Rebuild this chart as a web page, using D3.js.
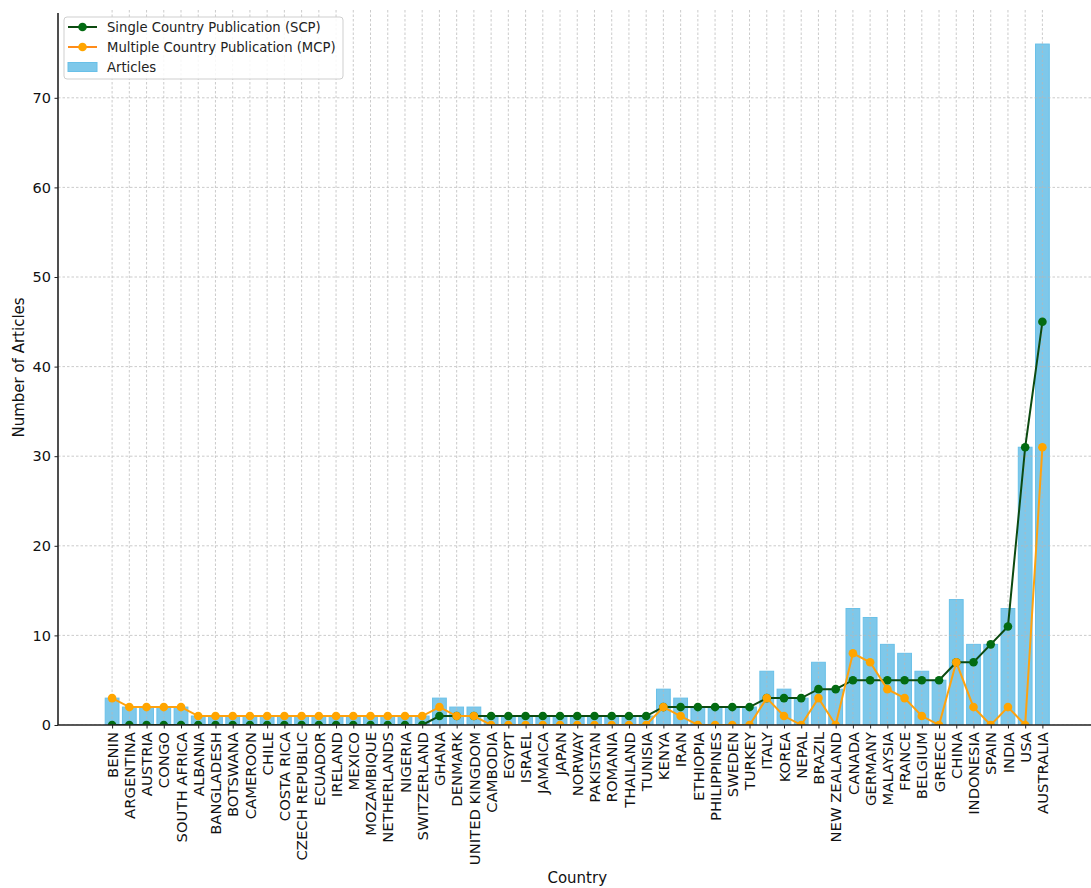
<!DOCTYPE html>
<html>
<head>
<meta charset="utf-8">
<script src="https://cdn.jsdelivr.net/npm/d3@7"></script>
<style>
  html, body { margin: 0; padding: 0; background: #fff; }
  svg { display: block; font-family: "DejaVu Sans", sans-serif; }
</style>
</head>
<body>
<svg id="chart" width="1091" height="888"></svg>
<script>
// Publication counts by country
const countries = [
  "BENIN", "ARGENTINA", "AUSTRIA", "CONGO", "SOUTH AFRICA", "ALBANIA", "BANGLADESH",
  "BOTSWANA", "CAMEROON", "CHILE", "COSTA RICA", "CZECH REPUBLIC", "ECUADOR", "IRELAND",
  "MEXICO", "MOZAMBIQUE", "NETHERLANDS", "NIGERIA", "SWITZERLAND", "GHANA", "DENMARK",
  "UNITED KINGDOM", "CAMBODIA", "EGYPT", "ISRAEL", "JAMAICA", "JAPAN", "NORWAY",
  "PAKISTAN", "ROMANIA", "THAILAND", "TUNISIA", "KENYA", "IRAN", "ETHIOPIA",
  "PHILIPPINES", "SWEDEN", "TURKEY", "ITALY", "KOREA", "NEPAL", "BRAZIL", "NEW ZEALAND",
  "CANADA", "GERMANY", "MALAYSIA", "FRANCE", "BELGIUM", "GREECE", "CHINA", "INDONESIA",
  "SPAIN", "INDIA", "USA", "AUSTRALIA"
];
const articles = [
  3, 2, 2, 2, 2, 1, 1, 1, 1, 1, 1, 1, 1, 1, 1, 1, 1, 1, 1, 3, 2, 2,
  1, 1, 1, 1, 1, 1, 1, 1, 1, 1, 4, 3, 2, 2, 2, 2, 6, 4, 3, 7, 4,
  13, 12, 9, 8, 6, 5, 14, 9, 9, 13, 31, 76
];
const scp = [
  0, 0, 0, 0, 0, 0, 0, 0, 0, 0, 0, 0, 0, 0, 0, 0, 0, 0, 0, 1, 1, 1,
  1, 1, 1, 1, 1, 1, 1, 1, 1, 1, 2, 2, 2, 2, 2, 2, 3, 3, 3, 4, 4,
  5, 5, 5, 5, 5, 5, 7, 7, 9, 11, 31, 45
];
const mcp = [
  3, 2, 2, 2, 2, 1, 1, 1, 1, 1, 1, 1, 1, 1, 1, 1, 1, 1, 1, 2, 1, 1,
  0, 0, 0, 0, 0, 0, 0, 0, 0, 0, 2, 1, 0, 0, 0, 0, 3, 1, 0, 3, 0,
  8, 7, 4, 3, 1, 0, 7, 2, 0, 2, 0, 31
];
const yTicks = [0, 10, 20, 30, 40, 50, 60, 70];

const svg = d3.select("#chart");

// Axes box: left spine at x=58, bottom at y=725
const plot = { left: 58, right: 1096.5, top: 10, bottom: 725 };
const n = countries.length;

// Category index -> x, with 5% margins around the bars
const x = d3.scaleLinear()
  .domain([-3.14, (n - 1) + 3.14])
  .range([plot.left, plot.right]);
const y = d3.scaleLinear()
  .domain([0, 79.8])
  .range([plot.bottom, plot.top]);

const step = x(1) - x(0);
const barW = step * 0.8;

svg.append("defs").append("clipPath").attr("id", "plotClip")
  .append("rect")
  .attr("x", plot.left).attr("y", plot.top)
  .attr("width", plot.right - plot.left).attr("height", plot.bottom - plot.top);

const g = svg.append("g").attr("clip-path", "url(#plotClip)");

// Bars
g.append("g").selectAll("rect")
  .data(articles)
  .join("rect")
  .attr("x", (d, i) => x(i) - barW / 2)
  .attr("y", d => y(d))
  .attr("width", barW)
  .attr("height", d => y(0) - y(d))
  .attr("fill", "#7ec8ea")
  .attr("stroke", "#69c0e8")
  .attr("stroke-width", 1);

// Grid (above bars, below lines)
const grid = g.append("g")
  .attr("stroke", "#b8b8b8")
  .attr("stroke-width", 0.9)
  .attr("stroke-dasharray", "2.5,2")
  .attr("opacity", 0.8);
grid.selectAll("line.v")
  .data(d3.range(n))
  .join("line")
  .attr("class", "v")
  .attr("x1", i => x(i)).attr("x2", i => x(i))
  .attr("y1", plot.top).attr("y2", plot.bottom);
grid.selectAll("line.h")
  .data(yTicks)
  .join("line")
  .attr("class", "h")
  .attr("x1", plot.left).attr("x2", plot.right)
  .attr("y1", d => y(d)).attr("y2", d => y(d));

// Lines with markers
function series(values, lineColor, dotColor) {
  const line = d3.line().x((d, i) => x(i)).y(d => y(d));
  g.append("path")
    .datum(values)
    .attr("d", line)
    .attr("fill", "none")
    .attr("stroke", lineColor)
    .attr("stroke-width", 2);
  g.append("g").selectAll("circle")
    .data(values)
    .join("circle")
    .attr("cx", (d, i) => x(i))
    .attr("cy", d => y(d))
    .attr("r", 4.3)
    .attr("fill", dotColor);
}
series(scp, "#0c4a10", "#036b12");
series(mcp, "#ffa20e", "#ffa500");

// Y axis
const yAxis = d3.axisLeft(y).tickValues(yTicks).tickSize(3.5).tickPadding(3.5);
const yg = svg.append("g")
  .attr("transform", `translate(${plot.left},0)`)
  .call(yAxis);
yg.select(".domain").remove();
yg.selectAll(".tick line").attr("stroke", "#222").attr("stroke-width", 1);
yg.selectAll(".tick text")
  .attr("fill", "#111")
  .style("font-size", "14.5px")
  .style("font-family", "DejaVu Sans");

// X axis
const xAxis = d3.axisBottom(x)
  .tickValues(d3.range(n))
  .tickFormat(i => countries[i])
  .tickSize(3.5)
  .tickPadding(3.5);
const xg = svg.append("g")
  .attr("transform", `translate(0,${plot.bottom})`)
  .call(xAxis);
xg.select(".domain").remove();
xg.selectAll(".tick line").attr("stroke", "#222").attr("stroke-width", 1);
xg.selectAll(".tick text")
  .attr("fill", "#111")
  .style("font-size", "14.8px")
  .style("font-family", "DejaVu Sans")
  .attr("text-anchor", "end")
  .attr("dy", "0.35em")
  .attr("transform", "translate(0,7) rotate(-90)")
  .attr("x", 0)
  .attr("y", 0);

// Spines
svg.append("line")
  .attr("x1", plot.left).attr("x2", plot.left)
  .attr("y1", plot.top + 3).attr("y2", plot.bottom)
  .attr("stroke", "#222").attr("stroke-width", 1.6);
svg.append("line")
  .attr("x1", plot.left).attr("x2", plot.right)
  .attr("y1", plot.bottom).attr("y2", plot.bottom)
  .attr("stroke", "#222").attr("stroke-width", 1.6);

// Axis titles
svg.append("text")
  .attr("x", (plot.left + plot.right) / 2)
  .attr("y", 883)
  .attr("text-anchor", "middle")
  .attr("fill", "#111")
  .style("font-size", "15px")
  .text("Country");
svg.append("text")
  .attr("transform", `translate(24,${(plot.top + plot.bottom) / 2}) rotate(-90)`)
  .attr("text-anchor", "middle")
  .attr("fill", "#111")
  .style("font-size", "15px")
  .text("Number of Articles");

// Legend
const legend = svg.append("g").attr("transform", "translate(64,17)");
legend.append("rect")
  .attr("width", 279).attr("height", 62)
  .attr("rx", 3)
  .attr("fill", "#fff").attr("fill-opacity", 0.85)
  .attr("stroke", "#cfcfcf");
const entries = [
  { label: "Single Country Publication (SCP)", type: "line", line: "#0c4a10", dot: "#036b12" },
  { label: "Multiple Country Publication (MCP)", type: "line", line: "#ff8c1a", dot: "#ffa500" },
  { label: "Articles", type: "bar" }
];
entries.forEach((e, i) => {
  const cy = 10 + i * 20;
  if (e.type === "line") {
    legend.append("line")
      .attr("x1", 4).attr("x2", 33).attr("y1", cy).attr("y2", cy)
      .attr("stroke", e.line).attr("stroke-width", 2);
    legend.append("circle")
      .attr("cx", 18.5).attr("cy", cy).attr("r", 4.3).attr("fill", e.dot);
  } else {
    legend.append("rect")
      .attr("x", 4).attr("y", cy - 4.5).attr("width", 29).attr("height", 9)
      .attr("fill", "#7ec8ea").attr("stroke", "#69c0e8");
  }
  legend.append("text")
    .attr("x", 43).attr("y", cy)
    .attr("dy", "0.35em")
    .attr("fill", "#222")
    .style("font-size", "13.2px")
    .text(e.label);
});
</script>
</body>
</html>
